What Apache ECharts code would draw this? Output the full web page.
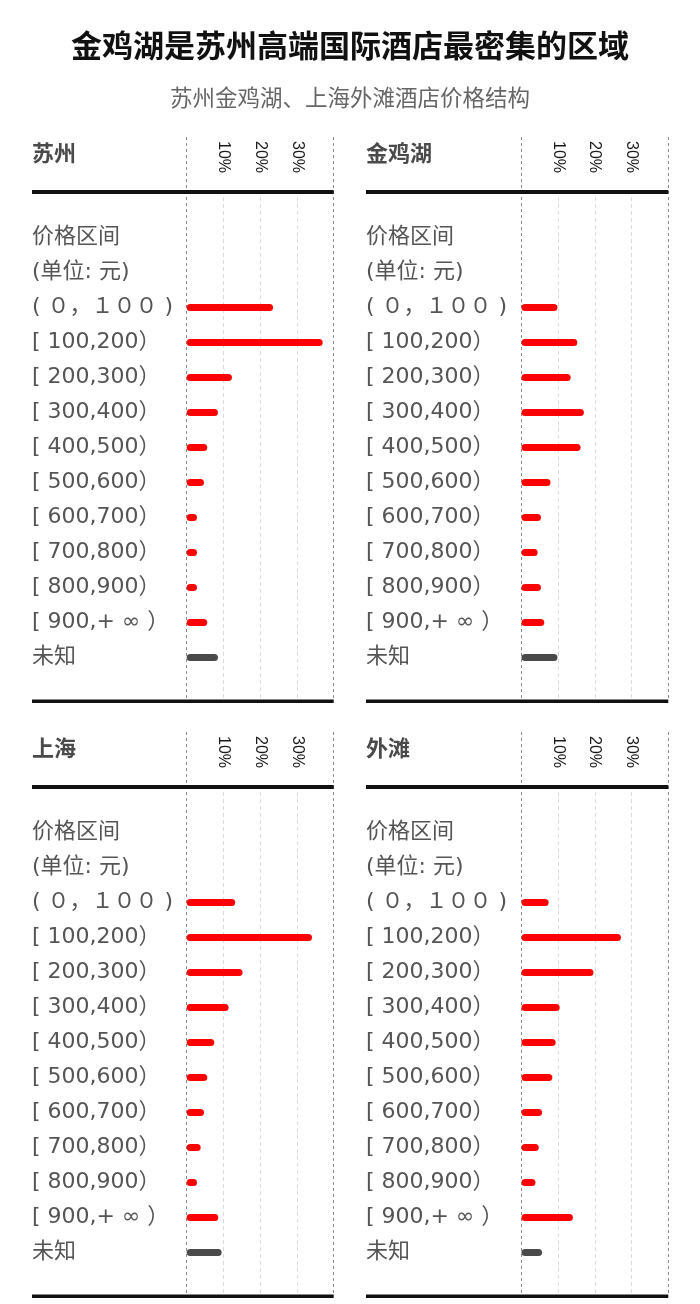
<!DOCTYPE html>
<html><head><meta charset="utf-8">
<script src="https://cdn.jsdelivr.net/npm/echarts@6/dist/echarts.min.js"></script>
<style>html,body{margin:0;padding:0;background:#fff}#c{width:700px;height:1304px}</style>
</head><body><div id="c"></div>
<script>
// ---- data ----
const chartTitle = '金鸡湖是苏州高端国际酒店最密集的区域';
const chartSubtitle = '苏州金鸡湖、上海外滩酒店价格结构';
const headerRows = ['价格区间', '(单位: 元)'];
const priceRanges = ['( ０，１００ )', '[ 100,200）', '[ 200,300）', '[ 300,400）', '[ 400,500）',
  '[ 500,600）', '[ 600,700）', '[ 700,800）', '[ 800,900）', '[ 900,+ ∞ ）', '未知'];
const panelNames = ['苏州', '金鸡湖', '上海', '外滩'];
const suzhou   = [23.5, 37.0, 12.3, 8.5, 5.6, 4.7, 2.8, 2.8, 2.8, 5.6, 8.5];
const jinjihu  = [9.8, 15.2, 13.4, 17.0, 16.1, 7.9, 5.3, 4.4, 5.3, 6.2, 9.8];
const shanghai = [13.2, 34.1, 15.2, 11.4, 7.5, 5.6, 4.7, 3.8, 2.8, 8.6, 9.5];
const waitan   = [7.4, 27.1, 19.6, 10.4, 9.3, 8.4, 5.6, 4.7, 3.8, 14.0, 5.6];
const panelValues = [suzhou, jinjihu, shanghai, waitan];
const axisMin = 0, axisMax = 40, axisStep = 10;
const unknownLabel = '未知';

// ---- layout / style ----
const RED = '#ff0000', GREY = '#4a4a4a';
const FONT = "'DejaVu Sans', 'Noto Sans CJK SC', sans-serif";
const TICKFONT = "'Liberation Sans', Arial, sans-serif";
const CJK = "'Noto Sans CJK SC', sans-serif";
const layout = [
  {x0: 32, zero: 186.7, right: 333.7, dy: 0},
  {x0: 366, zero: 521.5, right: 668.3, dy: 0},
  {x0: 32, zero: 186.7, right: 333.7, dy: 595},
  {x0: 366, zero: 521.5, right: 668.3, dy: 595}
];

const grid = [], xAxis = [], yAxis = [], series = [], title = [], graphic = [];
title.push({text: chartTitle, left: 'center', top: 27, padding: 0,
  textStyle: {fontFamily: CJK, fontSize: 31, fontWeight: 'bold', color: '#111', lineHeight: 36}});
title.push({text: chartSubtitle, left: 'center', top: 83, padding: 0,
  textStyle: {fontFamily: CJK, fontSize: 22.5, fontWeight: 'normal', color: '#666', lineHeight: 28}});

const cats = headerRows.concat(priceRanges);

layout.forEach((p, k) => {
  const w = p.right - p.zero;
  // header
  title.push({text: panelNames[k], left: p.x0, top: 139 + p.dy, padding: 0,
    textStyle: {fontFamily: CJK, fontSize: 22, fontWeight: 'bold', color: '#4a4a4a', lineHeight: 28}});
  // thick rules
  graphic.push({type: 'rect', shape: {x: p.x0, y: 190 + p.dy, width: p.right - p.x0, height: 4}, style: {fill: '#111'}, z: 10});
  graphic.push({type: 'rect', shape: {x: p.x0, y: 699.5 + p.dy, width: p.right - p.x0, height: 3.5}, style: {fill: '#111'}, z: 10});

  // grid A0: border dashed lines (0 and max)
  let gi = grid.length;
  grid.push({left: p.zero, width: w, top: 137 + p.dy, height: 563});
  xAxis.push({gridIndex: gi, type: 'value', min: axisMin, max: axisMax, interval: axisMax - axisMin,
    axisLine: {show: false}, axisTick: {show: false}, axisLabel: {show: false},
    splitLine: {show: true, lineStyle: {color: '#8a8a8a', width: 1, type: [3, 3]}}});
  yAxis.push({gridIndex: gi, type: 'value', show: false});

  // grid A1: light gridlines + tick labels
  gi = grid.length;
  grid.push({left: p.zero, width: w, top: 197 + p.dy, height: 503});
  xAxis.push({gridIndex: gi, type: 'value', position: 'top', min: axisMin, max: axisMax, interval: axisStep,
    axisLine: {show: false}, axisTick: {show: false},
    axisLabel: {show: true, rotate: -90, margin: 24, showMinLabel: false, showMaxLabel: false,
      formatter: v => v + '%', fontFamily: TICKFONT, fontSize: 16, color: '#1a1a1a'},
    splitLine: {show: true, lineStyle: {color: ['transparent', '#dcdcdc', '#dcdcdc', '#dcdcdc', 'transparent'], width: 1, type: [4, 3]}}});
  yAxis.push({gridIndex: gi, type: 'value', show: false});

  // grid B: bars
  gi = grid.length;
  grid.push({left: p.zero, width: w, top: 220 + p.dy, height: 455});
  xAxis.push({gridIndex: gi, type: 'value', min: axisMin, max: axisMax, show: false, splitLine: {show: false}});
  yAxis.push({gridIndex: gi, type: 'category', inverse: true, data: cats,
    axisLine: {show: false}, axisTick: {show: false}, splitLine: {show: false},
    axisLabel: {show: true, align: 'left', margin: p.zero - p.x0, interval: 0,
      fontFamily: FONT, fontSize: 22, color: '#555'}});
  series.push({type: 'bar', xAxisIndex: gi, yAxisIndex: gi, barWidth: 7,
    data: headerRows.map(() => '-').concat(panelValues[k]),
    itemStyle: {borderRadius: 3.5, color: params => params.name === unknownLabel ? GREY : RED},
    silent: true, animation: false});
});

const chart = echarts.init(document.getElementById('c'), null, {renderer: 'canvas'});
chart.setOption({animation: false, backgroundColor: '#fff', title, grid, xAxis, yAxis, series, graphic});
</script></body></html>
